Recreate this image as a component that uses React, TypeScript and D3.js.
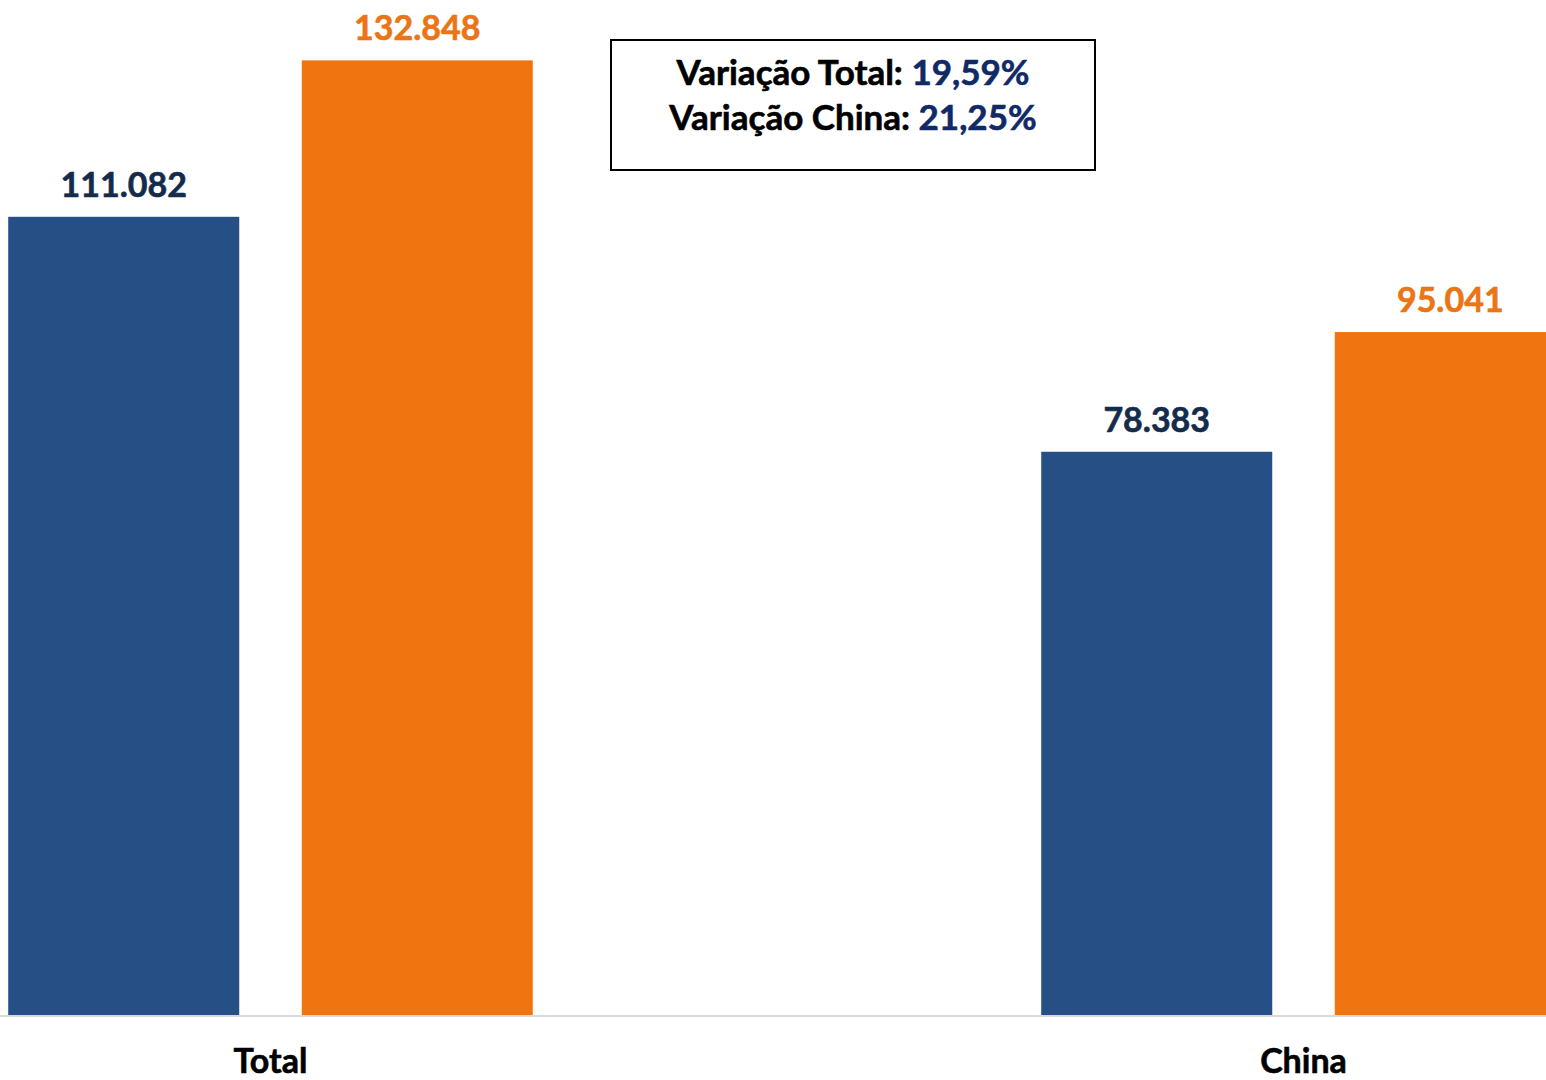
import { useEffect, useRef } from 'react';
import * as d3 from 'd3';

const categories = ['Total', 'China'];
const series = ['anterior', 'atual'];
const valuesAnterior = [111082, 78383];
const valuesAtual = [132848, 95041];
const variacoes = [
  { label: 'Variação Total: ', value: '19,59%' },
  { label: 'Variação China: ', value: '21,25%' },
];

const colors = ['#265085', '#f07511'];
const labelColors = ['#142b4b', '#ec7414'];
const FONT = 'Lato, "Open Sans", sans-serif';

const width = 1546;
const height = 1080;

const App = () => {
  const svgRef = useRef<SVGSVGElement>(null);

  useEffect(() => {
    document.body.style.margin = '0';
    if (!svgRef.current) return;
    const svg = d3.select(svgRef.current);
    svg.selectAll('*').remove();

    const baseline = 1015;
    const x0 = d3.scaleBand<string>().domain(categories).range([-246, 1820]).padding(0);
    const x1 = d3
      .scaleBand<string>()
      .domain(series)
      .range([0, x0.bandwidth()])
      .paddingInner(0.213)
      .paddingOuter(0.866);
    const y = d3.scaleLinear().domain([0, 140000]).range([baseline, 9]);

    const locale = d3.formatLocale({ decimal: ',', thousands: '.', grouping: [3], currency: ['', ''] });
    const fmt = locale.format(',d');

    const data = categories.map((c, i) => ({
      cat: c,
      vals: [valuesAnterior[i], valuesAtual[i]],
    }));

    const g = svg.append('g');

    const groups = g
      .selectAll('.grp')
      .data(data)
      .enter()
      .append('g')
      .attr('transform', d => `translate(${x0(d.cat)},0)`);

    groups
      .selectAll('rect')
      .data(d => d.vals.map((v, i) => ({ key: series[i], v, i })))
      .enter()
      .append('rect')
      .attr('x', d => x1(d.key)!)
      .attr('y', d => y(d.v))
      .attr('width', x1.bandwidth())
      .attr('height', d => baseline - y(d.v))
      .attr('fill', d => colors[d.i]);

    groups
      .selectAll('.val')
      .data(d => d.vals.map((v, i) => ({ key: series[i], v, i })))
      .enter()
      .append('text')
      .attr('x', d => x1(d.key)! + x1.bandwidth() / 2)
      .attr('y', d => y(d.v) - 20)
      .attr('text-anchor', 'middle')
      .style('font-family', FONT)
      .style('font-weight', 'bold')
      .style('font-size', '34px')
      .style('fill', d => labelColors[d.i])
      .style('stroke', d => labelColors[d.i])
      .style('stroke-width', 0.6)
      .text(d => fmt(d.v));

    // axis line
    g.append('line')
      .attr('x1', 0)
      .attr('x2', width)
      .attr('y1', baseline + 1)
      .attr('y2', baseline + 1)
      .attr('stroke', '#d9d9d9')
      .attr('stroke-width', 2);

    g.selectAll('.cat')
      .data(categories)
      .enter()
      .append('text')
      .attr('x', d => x0(d)! + x0.bandwidth() / 2)
      .attr('y', 1073)
      .attr('text-anchor', 'middle')
      .style('font-family', FONT)
      .style('font-weight', 'bold')
      .style('font-size', '34px')
      .style('fill', '#000')
      .style('stroke', '#000')
      .style('stroke-width', 0.6)
      .text(d => d);

    // variation box
    g.append('rect')
      .attr('x', 611)
      .attr('y', 40)
      .attr('width', 484)
      .attr('height', 130)
      .attr('fill', '#fff')
      .attr('stroke', '#000')
      .attr('stroke-width', 2);

    variacoes.forEach((v, i) => {
      const t = g
        .append('text')
        .attr('x', 853)
        .attr('y', 85 + i * 45)
        .attr('text-anchor', 'middle')
        .style('font-family', FONT)
        .style('font-weight', 'bold')
        .style('font-size', '35px')
        .style('stroke-width', 0.6);
      t.append('tspan').style('fill', '#000').style('stroke', '#000').text(v.label);
      t.append('tspan').style('fill', '#0f2a66').style('stroke', '#0f2a66').text(v.value);
    });
  }, []);

  return <svg ref={svgRef} width={width} height={height} style={{ display: 'block', background: '#fff' }} />;
};

export default App;
